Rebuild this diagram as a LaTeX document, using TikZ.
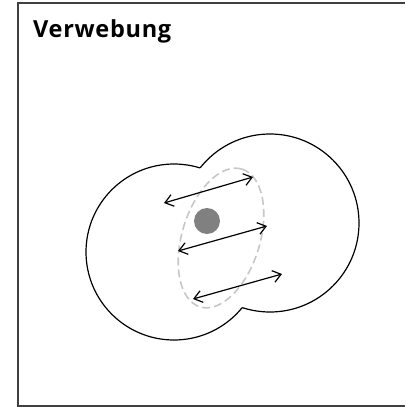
\documentclass[tikz,border=0pt]{standalone}
\usepackage{fontspec}
\setmainfont{Carlito}
\newfontfamily\titlefont[LetterSpace=3]{Open Sans}
\usetikzlibrary{arrows.meta}
\begin{document}
\begin{tikzpicture}[x=1pt,y=-1pt,
  frame/.style={draw=black!75,line width=1.3pt},
  outline/.style={draw=black,line width=1.2pt},
  lens/.style={draw=black!22,line width=1.6pt,dash pattern=on 8pt off 4pt},
  dbl/.style={line width=1.2pt,{Straight Barb[length=8pt,width=12pt]}-{Straight Barb[length=8pt,width=12pt]}},
  dot/.style={circle,fill=black!50,inner sep=0pt,minimum size=26pt}]
\useasboundingbox (0,0) rectangle (405,407);
\draw[frame] (405,3) -- (18,3) -- (18,406) -- (405,406);
\node[anchor=base west,font=\titlefont\bfseries\fontsize{23.5}{26}\selectfont,inner sep=0pt] (title) at (33,37) {Verwebung};
% union outline of two circles
\coordinate (c1) at (174,252);
\coordinate (c2) at (270,223);
\begin{scope}[even odd rule]
  \clip (0,0) rectangle (405,407) (c2) circle[radius=89];
  \draw[outline] (c1) circle[radius=88];
\end{scope}
\begin{scope}[even odd rule]
  \clip (0,0) rectangle (405,407) (c1) circle[radius=88];
  \draw[outline] (c2) circle[radius=89];
\end{scope}
% dashed lens ellipse
\draw[lens,rotate around={73.1:(221,238)}] (221,238) ellipse[x radius=72,y radius=39];
\node[dot] (d) at (207,221) {};
\coordinate (a1) at (164,203); \coordinate (b1) at (253,177);
\coordinate (a2) at (178,251); \coordinate (b2) at (267,226);
\coordinate (a3) at (193,299); \coordinate (b3) at (282,274);
\draw[dbl] (a1) -- (b1);
\draw[dbl] (a2) -- (b2);
\draw[dbl] (a3) -- (b3);
\end{tikzpicture}
\end{document}
